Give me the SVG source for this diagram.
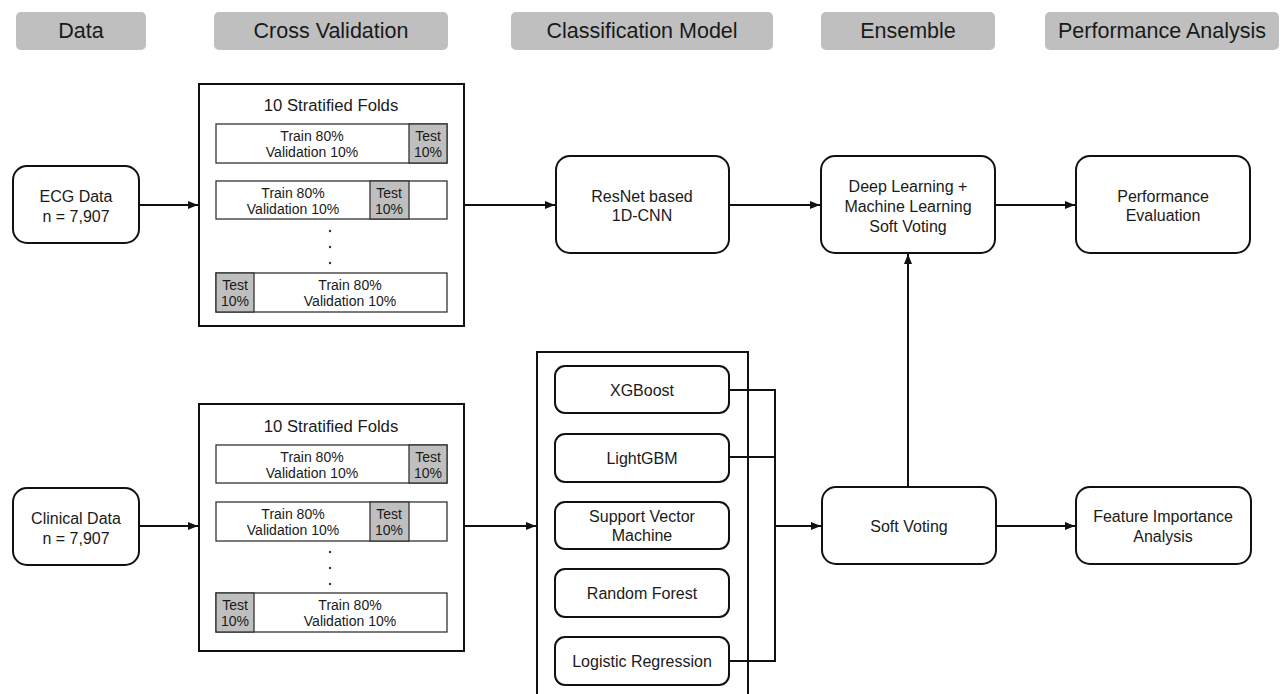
<svg xmlns="http://www.w3.org/2000/svg" width="1284" height="694" viewBox="0 0 1284 694">
<style>
text{font-family:"Liberation Sans",Arial,sans-serif;fill:#1a1a1a;text-anchor:middle;dominant-baseline:central}
.hdr rect{fill:#bfbfbf;stroke:none}
.hdr text{font-size:21.5px}
.node rect{fill:#fff;stroke:#111;stroke-width:2}
.node text{font-size:16px}
.big{fill:#fff;stroke:#111;stroke-width:2}
.row{fill:#fff;stroke:#333;stroke-width:1.3}
.test{fill:#bfbfbf;stroke:#333;stroke-width:1.3}
.ft{font-size:14px}
.title{font-size:16.7px}
.dot{fill:#333}
.con{fill:none;stroke:#111;stroke-width:2}
</style>
<defs>
<marker id="ah" viewBox="0 0 10 10" refX="10" refY="5" markerWidth="10" markerHeight="10" markerUnits="userSpaceOnUse" orient="auto">
<path d="M0,1 L10,5 L0,9 Z" fill="#111"/>
</marker>
</defs>
<rect width="1284" height="694" fill="#fff"/>

<g id="hdr-data" class="hdr"><rect x="16" y="12" width="130" height="38" rx="5"/><text x="81" y="31">Data</text></g>
<g id="hdr-cv" class="hdr"><rect x="214" y="12" width="234" height="38" rx="5"/><text x="331" y="31">Cross Validation</text></g>
<g id="hdr-cm" class="hdr"><rect x="511" y="12" width="262" height="38" rx="5"/><text x="642" y="31">Classification Model</text></g>
<g id="hdr-ens" class="hdr"><rect x="821" y="12" width="174" height="38" rx="5"/><text x="908" y="31">Ensemble</text></g>
<g id="hdr-pa" class="hdr"><rect x="1045" y="12" width="234" height="38" rx="5"/><text x="1162" y="31">Performance Analysis</text></g>

<g id="ecg" class="node"><rect x="13" y="166" width="126" height="77" rx="14"/><text x="76" y="196">ECG Data</text><text x="76" y="216">n = 7,907</text></g>
<g id="clinical" class="node"><rect x="13" y="488" width="126" height="77" rx="14"/><text x="76" y="518">Clinical Data</text><text x="76" y="538">n = 7,907</text></g>

<g id="cv-ecg">
<rect class="big" x="199" y="84" width="265" height="242"/>
<text class="title" x="331" y="105">10 Stratified Folds</text>
<rect class="row" x="216" y="124" width="231" height="39"/><rect class="test" x="409" y="124" width="38" height="39"/>
<text class="ft" x="312" y="136">Train 80%</text><text class="ft" x="312" y="152">Validation 10%</text>
<text class="ft" x="428" y="136">Test</text><text class="ft" x="428" y="152">10%</text>
<rect class="row" x="216" y="181" width="231" height="38"/><rect class="test" x="370" y="181" width="39" height="38"/>
<text class="ft" x="293" y="193">Train 80%</text><text class="ft" x="293" y="209">Validation 10%</text>
<text class="ft" x="389" y="193">Test</text><text class="ft" x="389" y="209">10%</text>
<circle class="dot" cx="330" cy="231" r="1.2"/><circle class="dot" cx="330" cy="247" r="1.2"/><circle class="dot" cx="330" cy="263" r="1.2"/>
<rect class="row" x="216" y="273" width="231" height="39"/><rect class="test" x="216" y="273" width="38" height="39"/>
<text class="ft" x="350" y="285">Train 80%</text><text class="ft" x="350" y="301">Validation 10%</text>
<text class="ft" x="235" y="285">Test</text><text class="ft" x="235" y="301">10%</text>
</g>

<g id="cv-clinical">
<rect class="big" x="199" y="404" width="265" height="247"/>
<text class="title" x="331" y="426">10 Stratified Folds</text>
<rect class="row" x="216" y="445" width="231" height="38"/><rect class="test" x="409" y="445" width="38" height="38"/>
<text class="ft" x="312" y="457">Train 80%</text><text class="ft" x="312" y="473">Validation 10%</text>
<text class="ft" x="428" y="457">Test</text><text class="ft" x="428" y="473">10%</text>
<rect class="row" x="216" y="502" width="231" height="39"/><rect class="test" x="370" y="502" width="39" height="39"/>
<text class="ft" x="293" y="514">Train 80%</text><text class="ft" x="293" y="530">Validation 10%</text>
<text class="ft" x="389" y="514">Test</text><text class="ft" x="389" y="530">10%</text>
<circle class="dot" cx="330" cy="552" r="1.2"/><circle class="dot" cx="330" cy="568" r="1.2"/><circle class="dot" cx="330" cy="584" r="1.2"/>
<rect class="row" x="216" y="593" width="231" height="39"/><rect class="test" x="216" y="593" width="38" height="39"/>
<text class="ft" x="350" y="605">Train 80%</text><text class="ft" x="350" y="621">Validation 10%</text>
<text class="ft" x="235" y="605">Test</text><text class="ft" x="235" y="621">10%</text>
</g>

<g id="resnet" class="node"><rect x="556" y="156" width="173" height="97" rx="14"/><text x="642" y="196">ResNet based</text><text x="642" y="215">1D-CNN</text></g>
<g id="dlml" class="node"><rect x="821" y="156" width="174" height="97" rx="14"/><text x="908" y="186">Deep Learning +</text><text x="908" y="206">Machine Learning</text><text x="908" y="226">Soft Voting</text></g>
<g id="perf" class="node"><rect x="1076" y="156" width="174" height="97" rx="14"/><text x="1163" y="196">Performance</text><text x="1163" y="215">Evaluation</text></g>

<g id="ml-models">
<rect class="big" x="537" y="352" width="211" height="350"/>
</g>
<g id="xgb" class="node"><rect x="555" y="366" width="174" height="47" rx="10"/><text x="642" y="390">XGBoost</text></g>
<g id="lgbm" class="node"><rect x="555" y="434" width="174" height="48" rx="10"/><text x="642" y="458">LightGBM</text></g>
<g id="svm" class="node"><rect x="555" y="502" width="174" height="47" rx="10"/><text x="642" y="516">Support Vector</text><text x="642" y="535">Machine</text></g>
<g id="rf" class="node"><rect x="555" y="569" width="174" height="48" rx="10"/><text x="642" y="593">Random Forest</text></g>
<g id="lr" class="node"><rect x="555" y="637" width="174" height="48" rx="10"/><text x="642" y="661">Logistic Regression</text></g>

<g id="softvote" class="node"><rect x="822" y="487" width="174" height="77" rx="14"/><text x="909" y="526">Soft Voting</text></g>
<g id="fia" class="node"><rect x="1076" y="487" width="175" height="77" rx="14"/><text x="1163" y="516">Feature Importance</text><text x="1163" y="536">Analysis</text></g>

<g id="connectors">
<path class="con" d="M139,205 H198" marker-end="url(#ah)"/>
<path class="con" d="M464,205 H555" marker-end="url(#ah)"/>
<path class="con" d="M729,205 H820" marker-end="url(#ah)"/>
<path class="con" d="M995,205 H1075" marker-end="url(#ah)"/>
<path class="con" d="M139,526 H198" marker-end="url(#ah)"/>
<path class="con" d="M464,526 H536" marker-end="url(#ah)"/>
<path class="con" d="M729,390 H775 V661 H729"/>
<path class="con" d="M729,457 H775"/>
<path class="con" d="M775,526 H821" marker-end="url(#ah)"/>
<path class="con" d="M908,487 V254" marker-end="url(#ah)"/>
<path class="con" d="M996,526 H1075" marker-end="url(#ah)"/>
</g>
</svg>
